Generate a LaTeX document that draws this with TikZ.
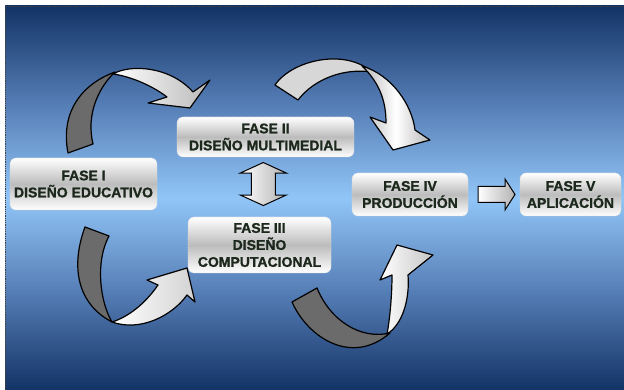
\documentclass[tikz,border=0pt]{standalone}
\usepackage{fontspec}
\setmainfont{Liberation Sans}
\newfontfamily\phasefont{Liberation Sans Bold}[FakeBold=1.2]
\usetikzlibrary{calc}
\definecolor{bgdark}{RGB}{19,51,101}
\definecolor{bgmid}{RGB}{84,124,180}
\definecolor{bglight}{RGB}{145,197,247}
\definecolor{txt}{RGB}{28,40,28}
\definecolor{darkband}{RGB}{107,107,107}
\definecolor{lightband}{RGB}{215,215,215}
\definecolor{boxgray}{RGB}{188,188,188}
\definecolor{boxline}{RGB}{215,215,215}
\pgfdeclareverticalshading{bgshade}{100bp}{color(0bp)=(bgdark); color(25bp)=(bgdark); color(37.5bp)=(bgmid); color(50bp)=(bglight); color(62.5bp)=(bgmid); color(75bp)=(bgdark); color(100bp)=(bgdark)}
\begin{document}
\begin{tikzpicture}[x=1pt,y=-1pt,
  phase/.style={draw=boxline, densely dotted, line width=0.6pt, rounded corners=6pt,
    top color=white, bottom color=white, middle color=boxgray, text=txt,
    font=\phasefont\fontsize{14}{17}\selectfont, align=center, inner sep=0pt},
  band/.style={draw=black, line width=1.2pt, line join=round},
  blockarrow/.style={draw=black, line width=1pt, line join=miter}]
\useasboundingbox (0,0) rectangle (624,390);
\fill[white] (0,0) rectangle (624,390);
\shade[shading=bgshade] (5,6) rectangle (624,390);
\draw[densely dotted, black!75, line width=0.8pt] (5,390) -- (5,6) -- (624,6);

% phase boxes
\node[phase, minimum width=147pt, minimum height=52pt] (f1) at (83.5,184) {FASE I\\DISEÑO EDUCATIVO};
\node[phase, minimum width=177pt, minimum height=40pt] (f2) at (265.5,137) {FASE II\\DISEÑO MULTIMEDIAL};
\node[phase, minimum width=143pt, minimum height=56pt] (f3) at (259.5,245) {FASE III\\DISEÑO\\COMPUTACIONAL};
\node[phase, minimum width=116pt, minimum height=43pt] (f4) at (410,194.5) {FASE IV\\PRODUCCIÓN};
\node[phase, minimum width=101pt, minimum height=43pt] (f5) at (570.5,194.5) {FASE V\\APLICACIÓN};

% ribbon arrow I -> II
\draw[band, fill=darkband] (68,153) .. controls (60,112) and (82,84) .. (115,72)
  .. controls (98,88) and (86,115) .. (93,144) -- cycle;
\draw[band, left color=white, right color=gray!55] (113,74) .. controls (130,64) and (170,66) .. (193,92)
  -- (210,80) -- (190,108) -- (148,103) -- (167,97) .. controls (150,84) and (128,76) .. (113,74) -- cycle;

% ribbon arrow II -> IV
\draw[band, fill=lightband] (275,85) .. controls (292,60) and (345,48) .. (372,72)
  .. controls (345,68) and (315,78) .. (298,100) -- cycle;
\draw[band, left color=gray!55, right color=gray!55, middle color=white] (362,66)
  .. controls (392,75) and (412,105) .. (415,130) -- (430,140) -- (393,150) -- (370,117) -- (386,123)
  .. controls (386,105) and (382,85) .. (362,66) -- cycle;

% ribbon arrow I -> III
\draw[band, fill=darkband] (85,227) .. controls (72,262) and (74,302) .. (112,322)
  .. controls (100,302) and (95,262) .. (109,236) -- cycle;
\draw[band, left color=white, right color=gray!35] (112,322) .. controls (140,332) and (172,316) .. (187,295)
  -- (195,302) -- (187,268) -- (147,280) -- (158,285) .. controls (145,304) and (128,317) .. (112,322) -- cycle;

% ribbon arrow III -> IV
\draw[band, fill=darkband] (292,302) .. controls (308,338) and (352,366) .. (390,333)
  .. controls (360,340) and (330,320) .. (317,288) -- cycle;
\draw[band, left color=white, right color=gray!45] (387,334) .. controls (402,325) and (410,300) .. (408,275)
  -- (433,255) -- (397,245) -- (380,280) -- (392,275) .. controls (392,295) and (390,318) .. (387,334) -- cycle;

% double arrow II <-> III
\coordinate (m23) at ($(f2.south)!0.45!(f3.north)+(0.5,0)$);
\draw[blockarrow, left color=white, right color=gray!60] ($(m23)+(0,-21.5)$) -- ++(23,10.5) -- ++(-11,0) -- ++(0,22)
  -- ++(11,0) -- ++(-23,10.5) -- ++(-23,-10.5) -- ++(11,0) -- ++(0,-22) -- ++(-11,0) -- cycle;

% arrow IV -> V
\coordinate (m45) at ($(f4.east)!0.5!(f5.west)+(2.5,0)$);
\draw[blockarrow, left color=white, right color=gray!60] ($(m45)+(-18.5,-8)$) -- ++(27,0) -- ++(0,-7.5)
  -- ++(10,15.5) -- ++(-10,15.5) -- ++(0,-7.5) -- ++(-27,0) -- cycle;
\end{tikzpicture}
\end{document}
